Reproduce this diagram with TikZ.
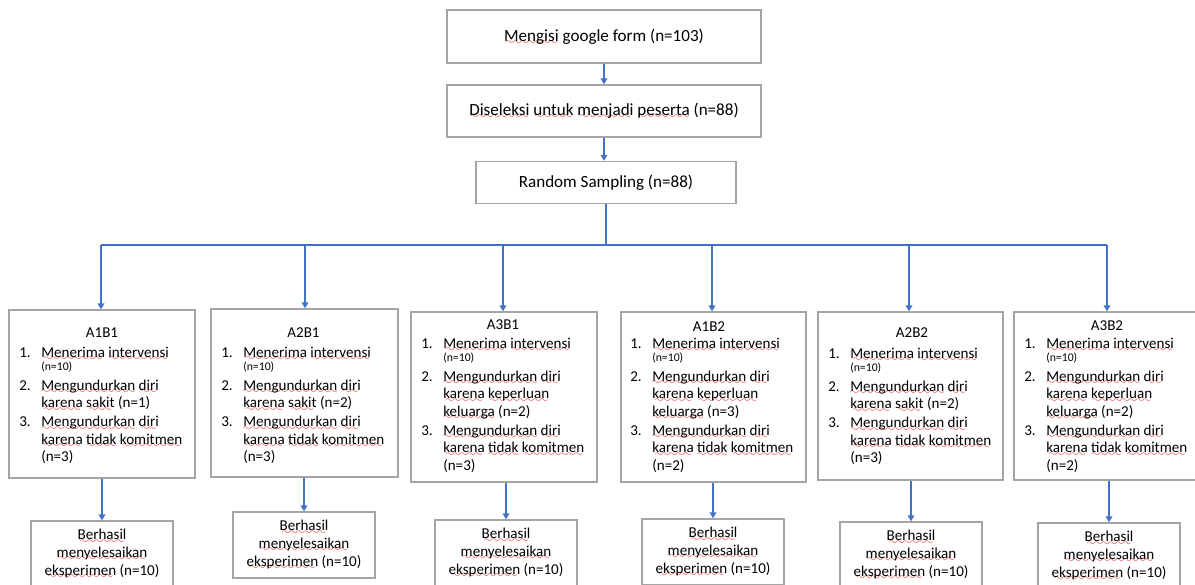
\documentclass[tikz,border=0pt]{standalone}
\usepackage{fontspec}
\setmainfont{Carlito}
\usepackage{graphicx}
\usetikzlibrary{arrows.meta,calc}
\definecolor{lineblue}{RGB}{68,114,196}
\definecolor{boxgray}{RGB}{165,165,165}
\definecolor{spellred}{RGB}{225,20,20}
\font\wavefont=lasy7
\newbox\splbox
\newcommand\spl[1]{\setbox\splbox\hbox{#1}\rlap{\lower2.6pt\hbox to \wd\splbox{\color{spellred}\cleaders\hbox{\wavefont\char58}\hfil}}\box\splbox}
\newcommand\lstitem[2]{\makebox[16.5pt][l]{#1}#2}
\newcommand\lstcont{\hspace*{16.5pt}}
\newcommand\smallnum{\fontsize{8.8}{9}\selectfont}
\begin{document}
\begin{tikzpicture}[x=0.75pt,y=-0.75pt,
  font=\fontsize{11.3}{13.1}\selectfont,
  box/.style={draw=boxgray,line width=1pt,fill=white,inner sep=0pt},
  topbox/.style={box,font=\fontsize{12.8}{15}\selectfont},
  arr/.style={draw=lineblue,line width=1.3pt,-{Triangle[width=5pt,length=4.5pt]}},
  ln/.style={draw=lineblue,line width=1.3pt},
  lst/.style={anchor=north west,align=left,inner sep=0pt},
  ttl/.style={inner sep=0pt},
  res/.style={box,minimum width=106.5pt,minimum height=49.5pt,align=center,font=\fontsize{11.3}{13.4}\selectfont},
  grp/.style={box,minimum width=#1}]
\useasboundingbox (0,0) rectangle (1195,585);
\clip (0,0) rectangle (1195,585);

% top chain
\node[topbox,minimum width=235.5pt,minimum height=39.75pt] (t1) at (604,36.5) {\spl{Mengisi} google form (n=103)};
\node[topbox,minimum width=235.5pt,minimum height=39pt] (t2) at (604,111) {\spl{Diseleksi} \spl{untuk} \spl{menjadi} \spl{peserta} (n=88)};
\node[topbox,minimum width=195pt,minimum height=31.5pt] (t3) at (606,182.5) {Random Sampling (n=88)};

% junctions
\coordinate (jc) at (606,245);
\coordinate (j1) at (101,245);
\coordinate (j2) at (305,245);
\coordinate (j3) at (503,245);
\coordinate (j4) at (712,245);
\coordinate (j5) at (909,245);
\coordinate (j6) at (1107,245);

% group boxes
\node[grp=139.5pt,minimum height=126pt] (g1) at (102,394) {};
\node[grp=140.25pt,minimum height=126pt] (g2) at (304.5,393) {};
\node[grp=139.5pt,minimum height=127.5pt] (g3) at (504,397) {};
\node[grp=138.75pt,minimum height=127.5pt] (g4) at (713.5,397) {};
\node[grp=138.75pt,minimum height=126pt] (g5) at (910.5,396) {};
\node[grp=137.25pt,minimum height=126pt] (g6) at (1105.5,396) {};

% titles
\node[ttl] (h1) at (102,333) {A1B1};
\node[ttl] (h2) at (303.5,333) {A2B1};
\node[ttl] (h3) at (503,325) {A3B1};
\node[ttl] (h4) at (709,327) {A1B2};
\node[ttl] (h5) at (912,333) {A2B2};
\node[ttl] (h6) at (1107,326) {A3B2};

% lists
\node[lst] (l1) at (19,346.5) {%
\lstitem{1.}{\spl{Menerima} \spl{intervensi}}\\[-3pt]
\lstcont{\smallnum (n=10)}\\[1.5pt]
\lstitem{2.}{\spl{Mengundurkan} \spl{diri}}\\
\lstcont\spl{karena} \spl{sakit} (n=1)\\[1.2pt]
\lstitem{3.}{\spl{Mengundurkan} \spl{diri}}\\
\lstcont\spl{karena} \spl{tidak} \spl{komitmen}\\
\lstcont(n=3)};
\node[lst] (l2) at (221,346.5) {%
\lstitem{1.}{\spl{Menerima} \spl{intervensi}}\\[-3pt]
\lstcont{\smallnum (n=10)}\\[1.5pt]
\lstitem{2.}{\spl{Mengundurkan} \spl{diri}}\\
\lstcont\spl{karena} \spl{sakit} (n=2)\\[1.2pt]
\lstitem{3.}{\spl{Mengundurkan} \spl{diri}}\\
\lstcont\spl{karena} \spl{tidak} \spl{komitmen}\\
\lstcont(n=3)};
\node[lst] (l3) at (421,337.5) {%
\lstitem{1.}{\spl{Menerima} \spl{intervensi}}\\[-3pt]
\lstcont{\smallnum (n=10)}\\[1.5pt]
\lstitem{2.}{\spl{Mengundurkan} \spl{diri}}\\
\lstcont\spl{karena} \spl{keperluan}\\
\lstcont\spl{keluarga} (n=2)\\[1.2pt]
\lstitem{3.}{\spl{Mengundurkan} \spl{diri}}\\
\lstcont\spl{karena} \spl{tidak} \spl{komitmen}\\
\lstcont(n=3)};
\node[lst] (l4) at (630,337.5) {%
\lstitem{1.}{\spl{Menerima} \spl{intervensi}}\\[-3pt]
\lstcont{\smallnum (n=10)}\\[1.5pt]
\lstitem{2.}{\spl{Mengundurkan} \spl{diri}}\\
\lstcont\spl{karena} \spl{keperluan}\\
\lstcont\spl{keluarga} (n=3)\\[1.2pt]
\lstitem{3.}{\spl{Mengundurkan} \spl{diri}}\\
\lstcont\spl{karena} \spl{tidak} \spl{komitmen}\\
\lstcont(n=2)};
\node[lst] (l5) at (828,347.5) {%
\lstitem{1.}{\spl{Menerima} \spl{intervensi}}\\[-3pt]
\lstcont{\smallnum (n=10)}\\[1.5pt]
\lstitem{2.}{\spl{Mengundurkan} \spl{diri}}\\
\lstcont\spl{karena} \spl{sakit} (n=2)\\[1.2pt]
\lstitem{3.}{\spl{Mengundurkan} \spl{diri}}\\
\lstcont\spl{karena} \spl{tidak} \spl{komitmen}\\
\lstcont(n=3)};
\node[lst] (l6) at (1024,337.5) {%
\lstitem{1.}{\spl{Menerima} \spl{intervensi}}\\[-3pt]
\lstcont{\smallnum (n=10)}\\[1.5pt]
\lstitem{2.}{\spl{Mengundurkan} \spl{diri}}\\
\lstcont\spl{karena} \spl{keperluan}\\
\lstcont\spl{keluarga} (n=2)\\[1.2pt]
\lstitem{3.}{\spl{Mengundurkan} \spl{diri}}\\
\lstcont\spl{karena} \spl{tidak} \spl{komitmen}\\
\lstcont(n=2)};

% result boxes
\node[res] (b1) at (102,554) {\spl{Berhasil}\\\spl{menyelesaikan}\\\spl{eksperimen} (n=10)};
\node[res] (b2) at (304,545) {\spl{Berhasil}\\\spl{menyelesaikan}\\\spl{eksperimen} (n=10)};
\node[res] (b3) at (506,553) {\spl{Berhasil}\\\spl{menyelesaikan}\\\spl{eksperimen} (n=10)};
\node[res] (b4) at (713,552) {\spl{Berhasil}\\\spl{menyelesaikan}\\\spl{eksperimen} (n=10)};
\node[res] (b5) at (911,555) {\spl{Berhasil}\\\spl{menyelesaikan}\\\spl{eksperimen} (n=10)};
\node[res] (b6) at (1109,556) {\spl{Berhasil}\\\spl{menyelesaikan}\\\spl{eksperimen} (n=10)};

% connectors
\draw[arr] (t1.south) -- (t2.north);
\draw[arr] (t2.south) -- (t2.south |- t3.north);
\draw[ln] (t3.south) -- (jc);
\draw[ln] (j1) -- (j6);
\foreach \i in {1,...,6}{
  \draw[arr] (j\i) -- (j\i |- g\i.north);
  \draw[arr] (b\i.north |- g\i.south) -- (b\i.north);
}
\end{tikzpicture}
\end{document}
